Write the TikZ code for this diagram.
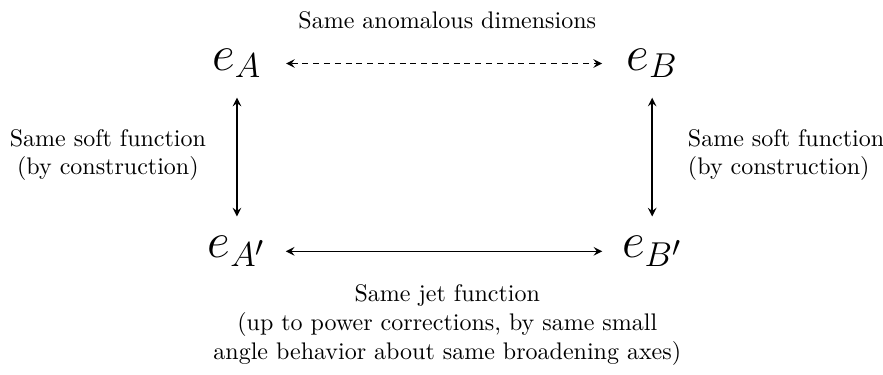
\documentclass[tikz,border=0pt]{standalone}
\usetikzlibrary{arrows}
\begin{document}
\begin{tikzpicture}[>=stealth]

\tikzset{
  obs/.style={font=\huge, inner sep=2pt},
  lbl/.style={align=center},
  rel/.style={<->, semithick},
}

\useasboundingbox (0,0) rectangle (12.93,5.48);

%% the four event shapes
\node[obs] (eA)  at (3.47,4.55) {$e_A$};
\node[obs] (eB)  at (9.55,4.55) {$e_B$};
\node[obs] (eAp) at (3.47,1.80) {$e_{A'}$};
\node[obs] (eBp) at (9.55,1.80) {$e_{B'}$};

%% top: same anomalous dimensions
\draw[rel, dashed, dash pattern=on 2.5pt off 2pt, shorten <=8pt, shorten >=8pt]
  (eA) -- (eB);
\node[lbl] (anom) at (6.55,5.18) {Same anomalous dimensions};

%% bottom: same jet function
\draw[rel, shorten <=6pt, shorten >=6pt] (eAp) -- (eBp);
\node[lbl] (jet) at (6.55,0.72)
  {Same jet function\\
   (up to power corrections, by same small\\
   angle behavior about same broadening axes)};

%% sides: same soft function
\draw[rel, shorten <=6pt, shorten >=6pt] (eA.south) -- (eA.south |- eAp.north);
\draw[rel, shorten <=6pt, shorten >=6pt] (eB.south) -- (eB.south |- eBp.north);
\node[lbl] (softA) at (1.58,3.21) {Same soft function\\(by construction)};
\node[lbl, align=left, anchor=west] (softB) at (9.95,3.21)
  {Same soft function\\(by construction)};

\end{tikzpicture}
\end{document}
